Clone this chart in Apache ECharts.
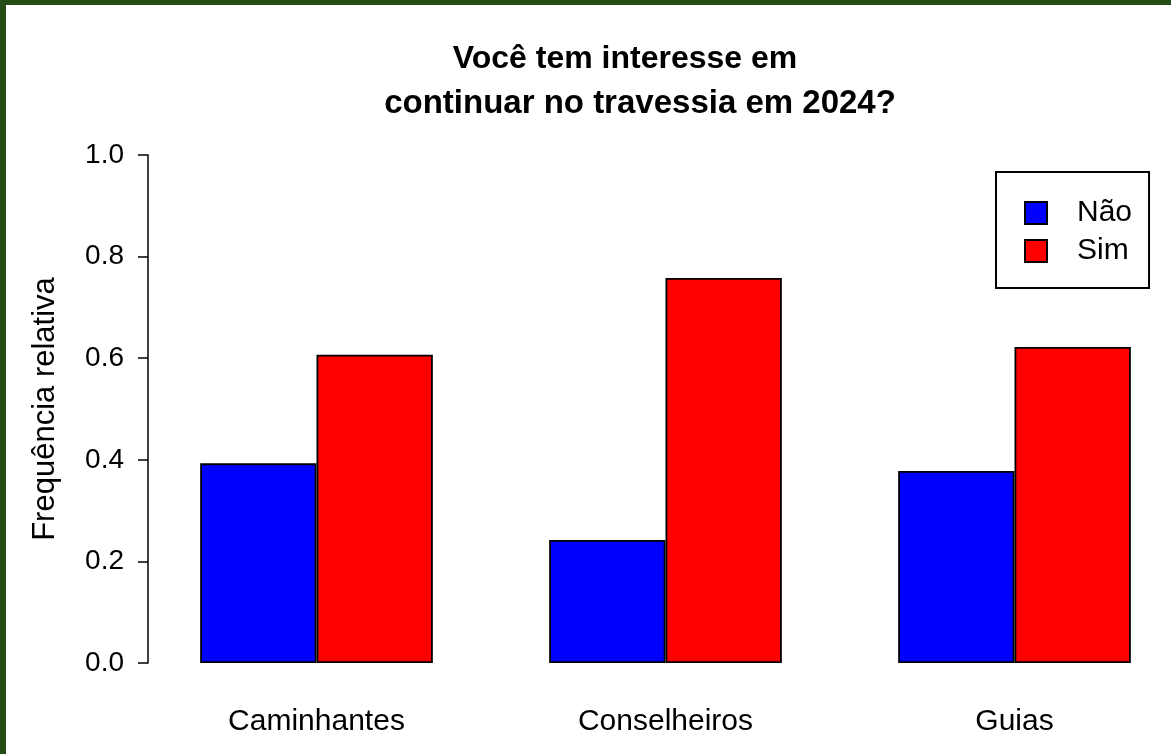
<!DOCTYPE html>
<html>
<head>
<meta charset="utf-8">
<script src="https://cdn.jsdelivr.net/npm/echarts@6/dist/echarts.min.js"></script>
<style>
  html, body { margin: 0; padding: 0; background: #ffffff; }
  #chart { width: 1171px; height: 754px; }
</style>
</head>
<body>
<div id="chart"></div>
<script>
const categories = ['Caminhantes', 'Conselheiros', 'Guias'];
const seriesNames = ['Não', 'Sim'];
const naoValues = [0.393, 0.242, 0.378];
const simValues = [0.607, 0.758, 0.622];
const yTicks = [0, 0.2, 0.4, 0.6, 0.8, 1.0];
const titleLine1 = 'Você tem interesse em';
const titleLine2 = 'continuar no travessia em 2024?';
const yAxisTitle = 'Frequência relativa';

const FONT = '"Liberation Sans", Arial, sans-serif';
const chart = echarts.init(document.getElementById('chart'), null, { renderer: 'canvas' });

chart.setOption({
  backgroundColor: '#ffffff',
  animation: false,
  textStyle: { fontFamily: FONT, color: '#000' },
  graphic: [
    { type: 'rect', left: 0, top: 0, shape: { width: 1171, height: 5 }, style: { fill: '#234d14' }, z: 100 },
    { type: 'rect', left: 0, top: 0, shape: { width: 6, height: 754 }, style: { fill: '#234d14' }, z: 100 }
  ],
  title: [
    {
      text: titleLine1,
      left: 620,
      top: 31,
      textAlign: 'center',
      textStyle: { fontFamily: FONT, fontWeight: 'bold', fontSize: 32, lineHeight: 46, color: '#000' }
    },
    {
      text: titleLine2,
      left: 635,
      top: 76,
      textAlign: 'center',
      textStyle: { fontFamily: FONT, fontWeight: 'bold', fontSize: 33, lineHeight: 46, color: '#000' }
    }
  ],
  legend: {
    orient: 'vertical',
    left: 996,
    top: 172,
    data: seriesNames,
    itemWidth: 22,
    itemHeight: 22,
    itemGap: 8,
    icon: 'rect',
    padding: [26, 17, 22, 28],
    borderColor: '#000',
    borderWidth: 2,
    backgroundColor: '#fff',
    textStyle: { fontFamily: FONT, fontSize: 30, color: '#000', padding: [0, 0, 0, 25] }
  },
  grid: { left: 142, top: 155, width: 1047, height: 508, containLabel: false, outerBoundsMode: 'none' },
  xAxis: {
    type: 'category',
    data: categories,
    axisLine: { show: false },
    axisTick: { show: false },
    axisLabel: { fontFamily: FONT, fontSize: 30, color: '#000', margin: 44 },
    splitLine: { show: false }
  },
  yAxis: {
    type: 'value',
    min: 0,
    max: 1,
    interval: 0.2,
    offset: -6,
    name: yAxisTitle,
    nameLocation: 'middle',
    nameGap: 87,
    nameTextStyle: { fontFamily: FONT, fontSize: 31, color: '#000' },
    axisLine: { show: true, lineStyle: { color: '#000', width: 1.5 } },
    axisTick: { show: true, length: 10, lineStyle: { color: '#000', width: 1.5 } },
    axisLabel: {
      fontFamily: FONT, fontSize: 28, color: '#000', margin: 24,
      formatter: v => v.toFixed(1)
    },
    splitLine: { show: false }
  },
  series: [
    {
      name: seriesNames[0], type: 'bar', data: naoValues,
      barGap: '0%', barCategoryGap: '33.33%',
      itemStyle: { color: '#0000ff', borderColor: '#000', borderWidth: 1.8 }
    },
    {
      name: seriesNames[1], type: 'bar', data: simValues,
      barGap: '0%', barCategoryGap: '33.33%',
      itemStyle: { color: '#ff0000', borderColor: '#000', borderWidth: 1.8 }
    }
  ]
});
</script>
</body>
</html>
